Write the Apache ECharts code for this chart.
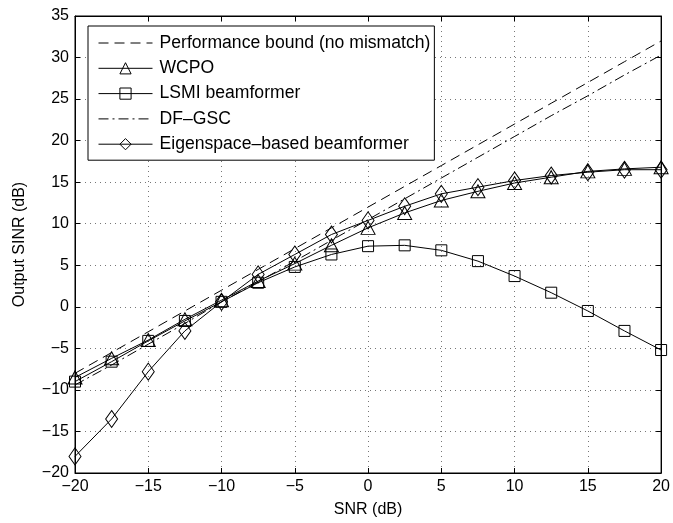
<!DOCTYPE html>
<html>
<head>
<meta charset="utf-8">
<script src="https://cdn.jsdelivr.net/npm/echarts@6/dist/echarts.min.js"></script>
<style>
  html, body { margin: 0; padding: 0; background: #fff; }
  #chart { width: 673px; height: 523px; }
</style>
</head>
<body>
<div id="chart"></div>
<script>
// SNR values (dB)
const snr = [-20, -17.5, -15, -12.5, -10, -7.5, -5, -2.5, 0, 2.5, 5, 7.5, 10, 12.5, 15, 17.5, 20];

// Output SINR (dB)
const bound = [-8, -5.5, -3, -0.5, 2, 4.5, 7, 9.5, 12, 14.5, 17, 19.5, 22, 24.5, 27, 29.5, 32];
const wcpo = [-8.5, -6.2, -4.0, -1.5, 0.8, 3.1, 5.2, 7.4, 9.5, 11.3, 12.8, 13.9, 14.9, 15.6, 16.3, 16.6, 16.8];
const lsmi = [-9.0, -6.6, -4.1, -1.7, 0.6, 2.9, 4.8, 6.3, 7.3, 7.4, 6.8, 5.5, 3.7, 1.7, -0.5, -2.9, -5.2];
const dfgsc = [-9.4, -7.0, -4.5, -2.0, 0.6, 3.0, 5.5, 8.0, 10.5, 13.0, 15.5, 18.0, 20.5, 23.0, 25.4, 27.9, 30.3];
const eigen = [-18.0, -13.5, -7.8, -2.9, 0.6, 3.9, 6.3, 8.7, 10.4, 12.1, 13.6, 14.4, 15.2, 15.8, 16.2, 16.5, 16.5];

const xTicks = { min: -20, max: 20, interval: 5 };
const yTicks = { min: -20, max: 35, interval: 5 };

const font = 'Liberation Sans, Arial, sans-serif';

function pairs(ys) {
    return snr.map((x, i) => [x, ys[i]]);
}

function minus(v) {
    return String(v).replace('-', '\u2212');
}

const chart = echarts.init(document.getElementById('chart'), null, { renderer: 'canvas' });

const gridLine = { show: true, lineStyle: { color: '#777', type: [1, 4], width: 1 } };
const tick = { show: true, inside: true, length: 5, lineStyle: { color: '#000' } };
const axisLine = { show: true, onZero: false, lineStyle: { color: '#000' } };

function makeSeries(name, data, symbol, size, dash) {
    const noMarker = symbol === 'none';
    return {
        name: name,
        type: 'line',
        data: pairs(data),
        symbol: noMarker ? 'circle' : symbol,
        symbolSize: size,
        showSymbol: !noMarker,
        lineStyle: { color: '#000', width: 1, type: dash },
        // markers are hollow; series without markers get an invisible legend marker
        itemStyle: { color: 'transparent', borderColor: noMarker ? 'transparent' : '#000', borderWidth: 1 },
        emphasis: { disabled: true },
        animation: false,
        z: 3
    };
}

chart.setOption({
    backgroundColor: '#fff',
    animation: false,
    grid: {
        left: 75, right: 11, top: 16, bottom: 46,
        show: true, borderColor: '#000', borderWidth: 1, backgroundColor: '#fff'
    },
    legend: {
        orient: 'vertical',
        left: 88, top: 26,
        padding: [8, 4, 7, 10],
        itemWidth: 54, itemHeight: 14, itemGap: 7.3,
        backgroundColor: '#fff',
        borderColor: '#000', borderWidth: 1,
        itemStyle: { borderWidth: 1 },
        lineStyle: { width: 1 },
        textStyle: { fontFamily: font, fontSize: 17.6, color: '#000', padding: [0, 0, 0, 2] },
        data: ['Performance bound (no mismatch)', 'WCPO', 'LSMI beamformer', 'DF\u2013GSC', 'Eigenspace\u2013based beamformer']
    },
    xAxis: [{
        type: 'value', min: xTicks.min, max: xTicks.max, interval: xTicks.interval,
        name: 'SNR (dB)', nameLocation: 'middle', nameGap: 29,
        nameTextStyle: { fontFamily: font, fontSize: 16, color: '#000' },
        axisLine: axisLine,
        axisTick: tick,
        axisLabel: { fontFamily: font, fontSize: 16, color: '#000', margin: 6, formatter: minus },
        splitLine: gridLine
    }, {
        type: 'value', position: 'top', min: xTicks.min, max: xTicks.max, interval: xTicks.interval,
        axisLine: axisLine,
        axisTick: tick, axisLabel: { show: false }, splitLine: { show: false }
    }],
    yAxis: [{
        type: 'value', min: yTicks.min, max: yTicks.max, interval: yTicks.interval,
        name: 'Output SINR (dB)', nameLocation: 'middle', nameGap: 47,
        nameTextStyle: { fontFamily: font, fontSize: 16, color: '#000' },
        axisLine: axisLine,
        axisTick: tick,
        axisLabel: { fontFamily: font, fontSize: 16, color: '#000', margin: 6, formatter: minus },
        splitLine: gridLine
    }, {
        type: 'value', position: 'right', min: yTicks.min, max: yTicks.max, interval: yTicks.interval,
        axisLine: axisLine,
        axisTick: tick, axisLabel: { show: false }, splitLine: { show: false }
    }],
    series: [
        makeSeries('Performance bound (no mismatch)', bound, 'none', 0, [10, 6]),
        makeSeries('WCPO', wcpo, 'triangle', [14, 13], 'solid'),
        makeSeries('LSMI beamformer', lsmi, 'rect', [11, 11], 'solid'),
        makeSeries('DF\u2013GSC', dfgsc, 'none', 0, [10, 4, 2, 4]),
        makeSeries('Eigenspace\u2013based beamformer', eigen, 'diamond', [12, 17], 'solid')
    ]
});
</script>
</body>
</html>
